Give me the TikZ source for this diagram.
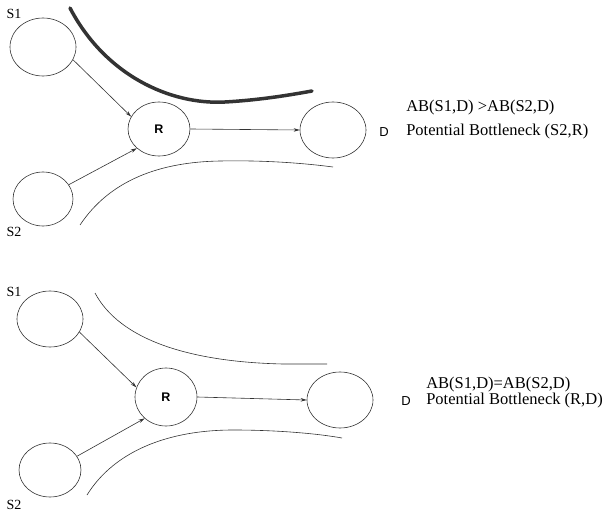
\documentclass[tikz,border=0pt]{standalone}
\usepackage{fontspec}
\setmainfont{Liberation Serif}
\newfontfamily\helv{Liberation Sans}
\usepackage{tikz}
\usetikzlibrary{shapes.geometric}
\usetikzlibrary{arrows.meta}
\tikzstyle{host}=[draw, ellipse, inner sep=0pt, minimum width=66pt, minimum height=56pt]
\tikzstyle{relay}=[host, minimum width=62pt, font=\helv\bfseries\fontsize{12.5}{14}\selectfont]
\tikzstyle{link}=[-{Stealth[length=6pt,width=3.5pt]}]
\tikzstyle{tag}=[inner sep=0pt, font=\fontsize{14}{16}\selectfont]
\tikzstyle{note}=[inner sep=0pt, anchor=west, font=\fontsize{16.5}{18}\selectfont]
\tikzstyle{dst}=[inner sep=0pt, font=\helv\fontsize{13}{15}\selectfont]

\begin{document}
\begin{tikzpicture}[x=1pt, y=-1pt, line width=0.6pt, draw=black!80]
        \useasboundingbox (0,0) rectangle (613,513);
        % upper case
        \node[host, minimum height=58pt] (S1a) at (43, 47) {};
        \node[host, minimum width=60pt, minimum height=54pt] (S2a) at (43, 199) {};
        \node[relay, minimum height=54pt] (Ra) at (159, 129) {R};
        \node[host] (Da) at (333, 130) {};
        \node[tag] (S1alab) at (14, 14) {S1};
        \node[tag] (S2alab) at (14, 232) {S2};
        \node[dst] (Dalab) at (384, 132) {D};
        \node[note] (ABa) at (406, 108) {AB(S1,D) >AB(S2,D)};
        \node[note] (PBa) at (406, 132) {Potential Bottleneck (S2,R)};
        \draw[link] (S1a.-23) -- (Ra.156);
        \draw[link] (S2a.29) -- (Ra.-139);
        \draw[link] (Ra.east) -- (Da.west);
        \draw[line width=3.5pt, line cap=round] (70, 8) .. controls (105, 75) and (170, 105) .. (225, 102) .. controls (260, 100) and (290, 95) .. (312, 91);
        \draw (80, 225) .. controls (110, 180) and (160, 162) .. (220, 161) .. controls (270, 160) and (310, 164) .. (333, 167);
        % lower case
        \node[host] (S1b) at (50, 319) {};
        \node[host, minimum width=62pt, minimum height=54pt] (S2b) at (50, 470) {};
        \node[relay, minimum height=58pt] (Rb) at (166, 397) {R};
        \node[host] (Db) at (340, 400) {};
        \node[tag] (S1blab) at (14, 292) {S1};
        \node[tag] (S2blab) at (14, 505) {S2};
        \node[dst] (Dblab) at (406, 401) {D};
        \node[note] (ABb) at (426, 385) {AB(S1,D)=AB(S2,D)};
        \node[note] (PBb) at (426, 401) {Potential Bottleneck (R,D)};
        \draw[link] (S1b.-24) -- (Rb.162);
        \draw[link] (S2b.27) -- (Rb.-135);
        \draw[link] (Rb.east) -- (Db.west);
        \draw (95, 293) .. controls (120, 340) and (190, 362) .. (283, 364) -- (327, 364);
        \draw (87, 495) .. controls (115, 450) and (170, 430) .. (233, 430) .. controls (280, 430) and (320, 434) .. (342, 438);
    \end{tikzpicture}
\end{document}
